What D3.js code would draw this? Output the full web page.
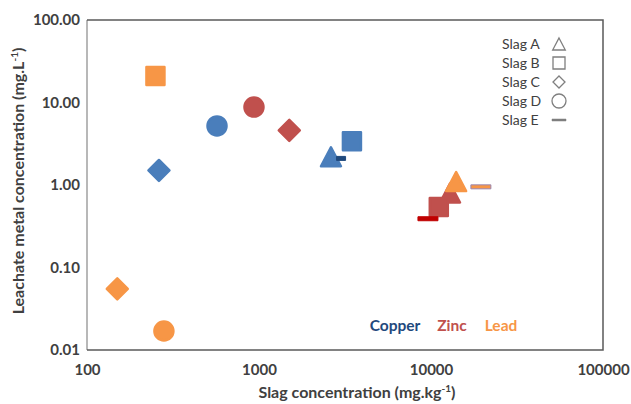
<!DOCTYPE html>
<html>
<head>
<meta charset="utf-8">
<script src="https://cdn.jsdelivr.net/npm/d3@7"></script>
<style>
  body { margin: 0; background: #fff; }
  svg text { font-family: Lato, "Open Sans", sans-serif; }
</style>
</head>
<body>
<div id="chart"></div>
<script>
// data
const metals = ["Copper", "Zinc", "Lead"];
const slags = ["Slag A", "Slag B", "Slag C", "Slag D", "Slag E"];
const shapes = ["triangle", "square", "diamond", "circle", "dash"];

// slag concentration (mg/kg), order A..E
const copperX = [2620, 3470, 262, 570, 3000];
const zincX = [12900, 11100, 1500, 935, 9600];
const leadX = [14000, 250, 150, 280, 19500];
// leachate concentration (mg/L), order A..E
const copperY = [2.2, 3.4, 1.5, 5.2, 2.1];
const zincY = [0.8, 0.54, 4.6, 8.8, 0.39];
const leadY = [1.1, 21, 0.055, 0.017, 0.95];

const xTicks = [100, 1000, 10000, 100000];
const yTicks = [0.01, 0.1, 1, 10, 100];

// styles
const metalColor = { Copper: "#4a7ebb", Zinc: "#c0504d", Lead: "#f79646" };
const labelColor = { Copper: "#1f497d", Zinc: "#c0504d", Lead: "#f79646" };
const dashColor = { Copper: "#1f497d", Zinc: "#c00000", Lead: "#f79646" };
const dashWidth = { Copper: 9, Zinc: 20, Lead: 20 };

const width = 631, height = 404;
const plot = { left: 87, right: 603, top: 20, bottom: 350 };

const svg = d3.select("#chart").append("svg")
  .attr("width", width)
  .attr("height", height);

const x = d3.scaleLog().domain([100, 100000]).range([plot.left, plot.right]);
const y = d3.scaleLog().domain([0.01, 100]).range([plot.bottom, plot.top]);

// frame
svg.append("line")
  .attr("x1", plot.left).attr("x2", plot.left)
  .attr("y1", plot.top).attr("y2", plot.bottom)
  .attr("stroke", "#b8b8b8").attr("stroke-width", 2);
svg.append("path")
  .attr("d", `M${plot.left},${plot.top}H${plot.right}V${plot.bottom}H${plot.left}`)
  .attr("fill", "none")
  .attr("stroke", "#5a5a5a").attr("stroke-width", 1.5);

// axes
const xAxis = svg.append("g")
  .attr("transform", `translate(0,${plot.bottom})`)
  .call(d3.axisBottom(x).tickValues(xTicks).tickFormat(d3.format("d")).tickSize(0).tickPadding(14));
const yAxis = svg.append("g")
  .attr("transform", `translate(${plot.left},0)`)
  .call(d3.axisLeft(y).tickValues(yTicks).tickFormat(d3.format(".2f")).tickSize(0).tickPadding(7));
[xAxis, yAxis].forEach(a => {
  a.select(".domain").remove();
  a.selectAll("text")
    .attr("font-size", 15).attr("font-weight", "bold")
    .attr("fill", "#404040")
    .style("font-family", "Lato, 'Open Sans', sans-serif");
});

svg.append("text")
  .attr("x", 357).attr("y", 398)
  .attr("text-anchor", "middle")
  .attr("font-size", 16).attr("font-weight", "bold").attr("fill", "#404040")
  .html('Slag concentration (mg.kg<tspan baseline-shift="super" font-size="10">-1</tspan>)');

svg.append("text")
  .attr("transform", "translate(24,181) rotate(-90)")
  .attr("text-anchor", "middle")
  .attr("font-size", 16).attr("font-weight", "bold").attr("fill", "#404040")
  .html('Leachate metal concentration (mg.L<tspan baseline-shift="super" font-size="10">-1</tspan>)');

// marker outlines, s = size in px
function shapePath(shape, s, w) {
  const h = s / 2;
  if (shape === "triangle") return `M0,${-h}L${h * 1.05},${h}L${-h * 1.05},${h}Z`;
  if (shape === "square") return `M${-h},${-h}H${h}V${h}H${-h}Z`;
  if (shape === "diamond") return `M0,${-h}L${h},0L0,${h}L${-h},0Z`;
  if (shape === "circle") return `M${h},0A${h},${h} 0 1 1 ${-h},0A${h},${h} 0 1 1 ${h},0Z`;
  const hw = (w || s) / 2;
  return `M${-hw},-2H${hw}V2H${-hw}Z`;
}

const points = [];
const xs = { Copper: copperX, Zinc: zincX, Lead: leadX };
const ys = { Copper: copperY, Zinc: zincY, Lead: leadY };
metals.forEach(m => {
  slags.forEach((s, i) => {
    points.push({ metal: m, slag: s, shape: shapes[i], xv: xs[m][i], yv: ys[m][i] });
  });
});

const markSize = { triangle: 19, square: 18, diamond: 21, circle: 19, dash: 0 };

svg.append("g").selectAll("path")
  .data(points)
  .join("path")
  .attr("transform", d => `translate(${x(d.xv)},${y(d.yv)})`)
  .attr("d", d => shapePath(d.shape, markSize[d.shape], dashWidth[d.metal]))
  .attr("fill", d => d.shape === "dash" ? dashColor[d.metal] : metalColor[d.metal])
  .attr("stroke", d => d.shape === "dash" ? (d.metal === "Lead" ? "#9a86b0" : dashColor[d.metal]) : metalColor[d.metal])
  .attr("stroke-width", d => d.shape === "dash" ? 1 : 2.5)
  .attr("stroke-linejoin", "round");

// metal labels
const labelX = { Copper: 395, Zinc: 452, Lead: 501 };
svg.append("g").selectAll("text")
  .data(metals)
  .join("text")
  .attr("x", d => labelX[d]).attr("y", 331)
  .attr("text-anchor", "middle")
  .attr("font-size", 15.5).attr("font-weight", "bold")
  .attr("fill", d => labelColor[d])
  .text(d => d);

// legend
const legend = svg.append("g");
const legY = d3.scalePoint().domain(slags).range([44, 120]);
legend.selectAll("text")
  .data(slags)
  .join("text")
  .attr("x", 502).attr("y", d => legY(d) + 5)
  .attr("font-size", 14).attr("fill", "#404040")
  .text(d => d);
legend.selectAll("path")
  .data(slags)
  .join("path")
  .attr("transform", d => `translate(559,${legY(d)})`)
  .attr("d", (d, i) => shapes[i] === "dash"
    ? "M-7,-1H7V1H-7Z"
    : shapePath(shapes[i], shapes[i] === "circle" ? 14 : 12))
  .attr("fill", (d, i) => shapes[i] === "dash" ? "#7f7f7f" : "none")
  .attr("stroke", "#7f7f7f")
  .attr("stroke-width", (d, i) => shapes[i] === "dash" ? 0.5 : 1.3);
</script>
</body>
</html>
